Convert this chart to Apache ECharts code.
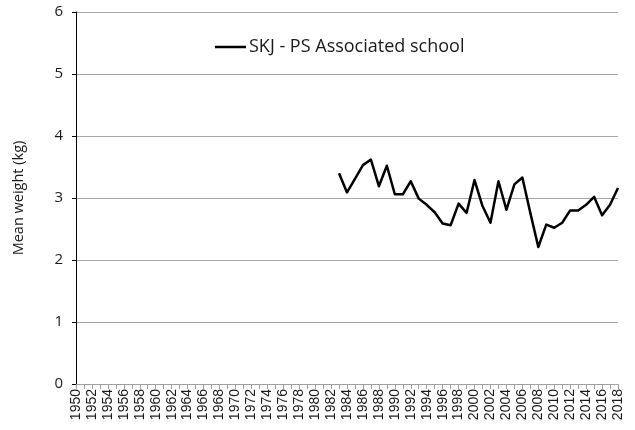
<!DOCTYPE html>
<html>
<head>
<meta charset="utf-8">
<script src="https://cdn.jsdelivr.net/npm/echarts@6/dist/echarts.min.js"></script>
<style>
  html, body { margin: 0; padding: 0; background: #fff; }
  #chart { width: 635px; height: 430px; }
</style>
</head>
<body>
<div id="chart"></div>
<script>
// Years on the category axis, 1950 to 2018
const years = [];
for (let y = 1950; y <= 2018; y++) years.push(String(y));

// Mean weight (kg) of skipjack, purse-seine associated school sets, 1983-2018
const seriesName = 'SKJ - PS Associated school';
const firstYear = 1983;
const meanWeight = [
  3.40, 3.09, 3.31, 3.53, 3.62, 3.19, 3.52, 3.06, 3.06, 3.27,
  2.99, 2.89, 2.77, 2.59, 2.56, 2.91, 2.76, 3.29, 2.87, 2.60,
  3.27, 2.81, 3.22, 3.33, 2.76, 2.21, 2.57, 2.52, 2.60, 2.80,
  2.80, 2.89, 3.02, 2.72, 2.89, 3.16
];

const yTicks = [0, 1, 2, 3, 4, 5, 6];

// Years before the first observation carry no value
const values = years.map(y => {
  const i = Number(y) - firstYear;
  return i >= 0 && i < meanWeight.length ? meanWeight[i] : null;
});

const chart = echarts.init(document.getElementById('chart'), null, { renderer: 'canvas' });
chart.setOption({
  animation: false,
  backgroundColor: '#ffffff',
  grid: { left: 76, right: 17, top: 12, bottom: 46, containLabel: false },
  legend: {
    left: 210,
    top: 33,
    icon: 'rect',
    itemWidth: 31,
    itemHeight: 2.5,
    itemGap: 4,
    textStyle: { fontFamily: 'Open Sans', fontSize: 18, color: '#1a1a1a', padding: [0, 0, 0, -2] },
    data: [seriesName]
  },
  xAxis: {
    type: 'category',
    data: years,
    boundaryGap: false,
    axisLine: { lineStyle: { color: '#a0a0a0', width: 1 } },
    axisTick: { show: true, interval: 0, length: 5, lineStyle: { color: '#a0a0a0' } },
    axisLabel: {
      interval: 1,
      rotate: 90,
      margin: 5,
      fontFamily: 'Liberation Sans',
      fontSize: 14,
      color: '#1a1a1a'
    },
    splitLine: { show: false }
  },
  yAxis: {
    type: 'value',
    min: yTicks[0],
    max: yTicks[yTicks.length - 1],
    interval: 1,
    name: 'Mean weight (kg)',
    nameLocation: 'middle',
    nameGap: 50,
    nameRotate: 90,
    nameTextStyle: { fontFamily: 'Open Sans', fontSize: 14.5, color: '#1a1a1a' },
    axisLine: { show: true, lineStyle: { color: '#000000', width: 1 } },
    axisTick: { show: true, length: 4, lineStyle: { color: '#000000' } },
    axisLabel: {
      margin: 13,
      fontFamily: 'Open Sans',
      fontSize: 15,
      color: '#1a1a1a'
    },
    splitLine: { show: true, lineStyle: { color: '#a6a6a6', width: 1 } }
  },
  series: [{
    name: seriesName,
    type: 'line',
    data: values,
    symbol: 'none',
    connectNulls: false,
    lineStyle: { color: '#000000', width: 2.5, join: 'round' },
    itemStyle: { color: '#000000' }
  }]
});
</script>
</body>
</html>
